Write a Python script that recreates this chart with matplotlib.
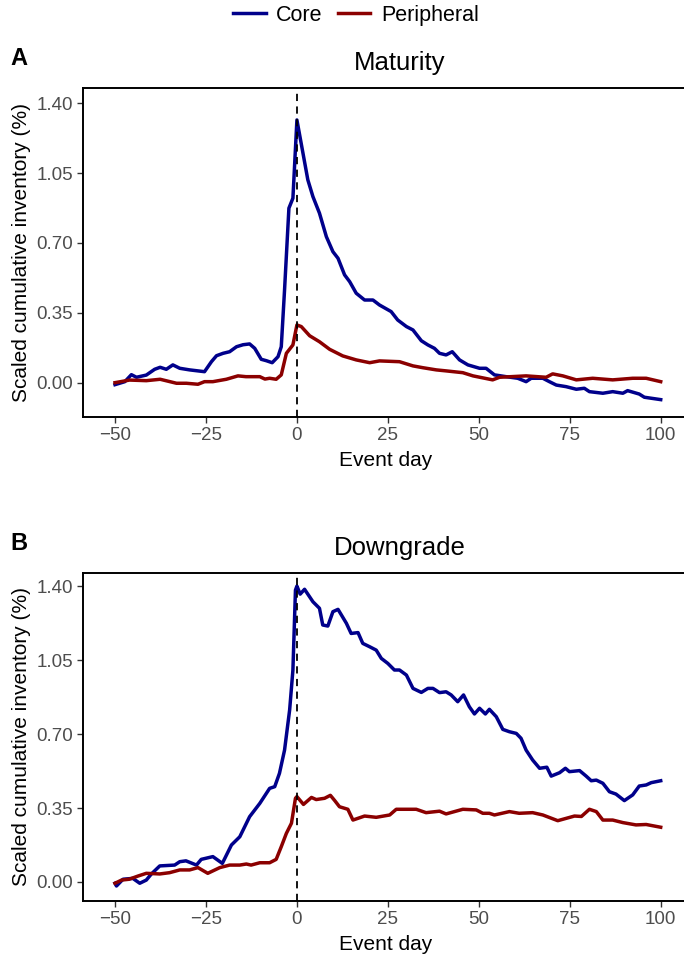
import matplotlib.pyplot as plt
from matplotlib.ticker import FormatStrFormatter

plt.rcParams['font.family'] = ['Liberation Sans', 'DejaVu Sans']

# Panel A: Maturity
mat_core_day = [-50, -47.3, -45.5, -44.1, -41.4, -39.1, -37.6, -35.9, -34.1, -32.2, -29.5, -25.4,
                -23.5, -22.1, -20.3, -18.5, -16.6, -14.8, -13.0, -11.6, -9.8, -8.4, -6.8, -5.2,
                -4.3, -3.4, -2.2, -1.1, 0, 3.0, 4.4, 6.2, 8.1, 9.9, 11.3, 13.1, 14.5, 16.3, 18.6,
                20.9, 22.7, 25.9, 27.7, 30.1, 31.9, 34.2, 36.0, 37.8, 39.2, 41.0, 42.7, 44.7,
                47.0, 50.2, 52.0, 54.3, 57.5, 60.7, 63.0, 64.4, 67.6, 69.4, 71.3, 74.0, 76.8,
                79.0, 80.4, 84.1, 86.8, 89.6, 90.9, 94.1, 95.5, 100]
mat_core = [-0.01, 0.005, 0.04, 0.027, 0.038, 0.067, 0.077, 0.067, 0.089, 0.072, 0.064, 0.055,
            0.105, 0.135, 0.147, 0.155, 0.18, 0.19, 0.194, 0.172, 0.117, 0.11, 0.10, 0.13,
            0.18, 0.464, 0.874, 0.924, 1.316, 1.016, 0.932, 0.849, 0.731, 0.656, 0.623, 0.54,
            0.506, 0.448, 0.414, 0.414, 0.389, 0.356, 0.314, 0.281, 0.264, 0.21, 0.189, 0.172,
            0.147, 0.139, 0.155, 0.114, 0.089, 0.072, 0.072, 0.039, 0.030, 0.022, 0.005, 0.022,
            0.022, 0.005, -0.012, -0.02, -0.033, -0.028, -0.045, -0.053, -0.045, -0.053, -0.04,
            -0.057, -0.073, -0.085]
mat_peri_day = [-50, -46, -41.4, -37.6, -33.1, -30.4, -27.2, -25.4, -23.1, -19.4, -16.2, -14.0,
                -10.2, -8.8, -7.5, -5.7, -4.3, -2.9, -1.1, 0, 1.2, 3.5, 6.2, 9.0, 12.6, 16.3,
                20.0, 22.7, 28.2, 31.9, 34.6, 38.3, 41.0, 45.6, 48.4, 53.8, 55.7, 63.0, 68.5,
                70.3, 73.1, 76.8, 81.3, 86.8, 92.3, 96.0, 100]
mat_peri = [0.0, 0.013, 0.01, 0.017, -0.003, -0.003, -0.008, 0.005, 0.005, 0.017, 0.034, 0.03,
            0.03, 0.018, 0.022, 0.017, 0.039, 0.147, 0.189, 0.289, 0.281, 0.235, 0.205, 0.167,
            0.134, 0.114, 0.1, 0.109, 0.105, 0.084, 0.075, 0.064, 0.059, 0.05, 0.034, 0.014,
            0.027, 0.034, 0.027, 0.044, 0.034, 0.014, 0.022, 0.014, 0.022, 0.022, 0.005]

# Panel B: Downgrade
dg_core_day = [-50, -49.6, -47.8, -45.1, -43.2, -41.4, -40.0, -37.7, -33.6, -32.2, -30.5, -27.6,
               -26.3, -23.1, -20.5, -18.0, -15.7, -13.0, -10.2, -7.5, -6.1, -4.8, -3.4, -2.0,
               -1.1, -0.4, 0, 0.9, 2.1, 4.4, 6.2, 7.1, 8.5, 9.9, 11.3, 13.6, 14.9, 16.8, 18.1,
               20.0, 21.8, 23.2, 25.0, 26.8, 28.2, 30.1, 31.9, 34.2, 36.0, 37.4, 39.2, 41.0,
               42.4, 44.2, 45.8, 47.4, 48.8, 50.2, 51.8, 52.9, 54.8, 56.6, 58.4, 60.3, 61.6,
               63.0, 64.8, 66.7, 68.7, 69.9, 72.2, 73.8, 74.9, 77.7, 79.5, 80.9, 82.3, 84.1,
               85.9, 87.7, 90.0, 92.3, 94.1, 96.0, 97.4, 100]
dg_core = [-0.006, -0.019, 0.013, 0.017, -0.006, 0.009, 0.038, 0.076, 0.08, 0.096, 0.1, 0.08,
           0.107, 0.12, 0.088, 0.175, 0.214, 0.309, 0.372, 0.443, 0.451, 0.514, 0.624, 0.814,
           1.003, 1.381, 1.40, 1.362, 1.385, 1.326, 1.295, 1.216, 1.211, 1.279, 1.29, 1.224,
           1.176, 1.18, 1.129, 1.113, 1.097, 1.058, 1.034, 1.003, 1.003, 0.979, 0.916, 0.897,
           0.916, 0.916, 0.896, 0.9, 0.885, 0.853, 0.885, 0.829, 0.795, 0.822, 0.795, 0.817,
           0.782, 0.722, 0.711, 0.703, 0.68, 0.624, 0.577, 0.538, 0.543, 0.501, 0.517, 0.538,
           0.522, 0.527, 0.501, 0.479, 0.482, 0.467, 0.427, 0.416, 0.385, 0.412, 0.454, 0.459,
           0.47, 0.479]
dg_peri_day = [-50, -48.2, -46.1, -43.7, -41.4, -37.7, -35.0, -32.2, -29.5, -27.2, -24.5, -21.2,
               -18.5, -15.7, -13.9, -12.6, -10.2, -7.5, -5.7, -4.3, -2.9, -1.5, -0.4, 0, 1.8,
               4.0, 5.3, 7.6, 9.2, 10.4, 11.7, 14.0, 15.4, 18.6, 21.8, 25.5, 27.3, 30.1, 32.8,
               35.5, 39.2, 41.0, 45.6, 49.3, 51.1, 52.9, 54.3, 58.4, 61.1, 64.8, 67.6, 71.7,
               74.0, 76.3, 78.2, 80.4, 82.3, 84.1, 86.8, 89.6, 93.2, 96.0, 100]
dg_peri = [-0.006, 0.009, 0.013, 0.028, 0.041, 0.038, 0.044, 0.057, 0.057, 0.068, 0.041, 0.068,
           0.08, 0.08, 0.085, 0.08, 0.091, 0.091, 0.107, 0.167, 0.23, 0.278, 0.396, 0.404,
           0.367, 0.40, 0.39, 0.396, 0.41, 0.385, 0.356, 0.344, 0.293, 0.312, 0.306, 0.317,
           0.344, 0.344, 0.344, 0.328, 0.335, 0.322, 0.344, 0.341, 0.325, 0.325, 0.317, 0.333,
           0.325, 0.328, 0.317, 0.29, 0.301, 0.312, 0.31, 0.344, 0.333, 0.293, 0.293, 0.281,
           0.27, 0.272, 0.259]

CORE = '#00008B'
PERI = '#8B0000'
W, H = 684, 957

fig = plt.figure(figsize=(W / 100, H / 100), dpi=100)


def panel(rect, core_x, core_y, peri_x, peri_y, title, letter, ylim):
    ax = fig.add_axes(rect)
    ax.plot(core_x, core_y, color=CORE, lw=2.5, label='Core')
    ax.plot(peri_x, peri_y, color=PERI, lw=2.5, label='Peripheral')
    ax.axvline(0, color='black', ls=(0, (4, 3)), lw=1.3)
    ax.set_xlim(-58.8, 107.5)
    ax.set_ylim(*ylim)
    ax.set_xticks([-50, -25, 0, 25, 50, 75, 100])
    ax.set_yticks([0, 0.35, 0.70, 1.05, 1.40])
    ax.yaxis.set_major_formatter(FormatStrFormatter('%.2f'))
    ax.tick_params(labelsize=13.5, labelcolor='#4D4D4D', color='#333333', length=4, width=1,
                   pad=3)
    for s in ['left', 'bottom', 'top']:
        ax.spines[s].set_linewidth(1.4)
    ax.spines['right'].set_visible(False)
    ax.set_xlabel('Event day', fontsize=15, labelpad=5)
    ax.set_ylabel('Scaled cumulative inventory (%)', fontsize=15, labelpad=4)
    # title centred at x = 400 px, as in the reference
    ax.set_title(title, fontsize=18.5, pad=13, x=(400 - rect[0] * W) / (rect[2] * W))
    fig.text(10 / W, ax.get_position().y1 + 18 / H, letter, fontsize=17, fontweight='bold',
             ha='left', va='bottom')
    return ax


axA = panel([83 / W, (H - 417) / H, 605 / W, 329 / H], mat_core_day, mat_core,
            mat_peri_day, mat_peri, 'Maturity', 'A', (-0.172, 1.476))
axB = panel([83 / W, (H - 901) / H, 605 / W, 328 / H], dg_core_day, dg_core,
            dg_peri_day, dg_peri, 'Downgrade', 'B', (-0.09, 1.462))

handles, labels = axA.get_legend_handles_labels()
fig.legend(handles, labels, loc='upper center', bbox_to_anchor=(356 / W, 1.015), ncol=2,
           frameon=False, fontsize=15.5, handlelength=1.5, handletextpad=0.5, columnspacing=0.7)

fig.savefig('out.png', dpi=100)
